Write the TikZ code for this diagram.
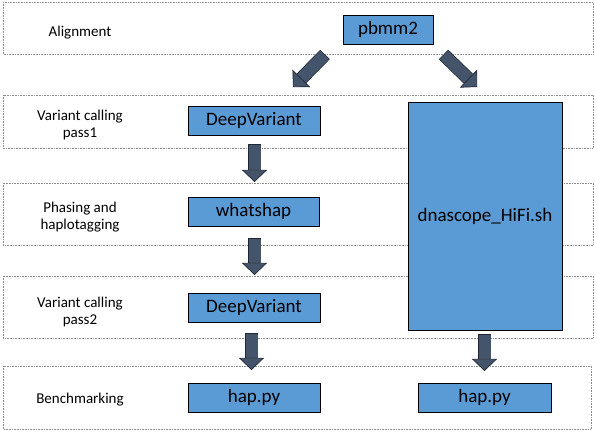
\documentclass[tikz,border=0pt]{standalone}
\usepackage{fontspec}
\setmainfont{Carlito}
\usepackage{xcolor}
\usepackage{tikz}
\usetikzlibrary{arrows.meta}
\usetikzlibrary{positioning}

\definecolor{toolblue}{HTML}{5B9BD5}
\definecolor{slate}{HTML}{44546A}
\definecolor{slateedge}{HTML}{1F2733}

\begin{document}
\begin{tikzpicture}[x=1pt,y=-1pt,
    band/.style={draw=black!45,densely dotted,line width=0.6pt},
    stage/.style={font=\fontsize{15}{17}\selectfont,align=center},
    tool/.style={shape=rectangle,draw=black,line width=0.9pt,fill=toolblue,
        inner sep=0pt,minimum height=29pt,font=\fontsize{19}{21}\selectfont},
    blk/.style={line width=12pt,draw=slate,
        -{Triangle[length=12pt,width=25pt,line width=0.7pt,fill=slate,color=slateedge]},
        preaction={draw=slateedge,line width=13.4pt,-,shorten >=12pt,shorten <=-0.7pt}}]

  \useasboundingbox (0,0) rectangle (595,430);

  % the five rows
  \draw [band] (3,2) rectangle (593,54);
  \draw [band] (3,95) rectangle (593,148);
  \draw [band] (3,183) rectangle (593,245);
  \draw [band] (3,276) rectangle (593,338);
  \draw [band] (3,366) rectangle (591,429);

  % row names
  \node[stage] (lblalign) at (80,33) {Alignment};
  \node[stage] (lblpass1) at (80,125) {Variant calling\\pass1};
  \node[stage] (lblphase) at (80,217.5) {Phasing and\\haplotagging};
  \node[stage] (lblpass2) at (80,312) {Variant calling\\pass2};
  \node[stage] (lblbench) at (80,400) {Benchmarking};

  % tools
  \node[tool,minimum width=90pt] (pbmm) at (388,29.5) {pbmm2};
  \node[tool,minimum width=132pt] (dv1) at (254,120.5) {DeepVariant};
  \node[tool,minimum width=131pt] (whatshap) at (253.5,211.5) {whatshap};
  \node[tool,minimum width=132pt] (dv2) at (254,307.5) {DeepVariant};
  \node[tool,minimum width=132pt] (happyl) at (254,397.5) {hap.py};
  \node[tool,minimum width=133pt] (happyr) at (484.5,397.5) {hap.py};
  \node[tool,minimum width=154pt,minimum height=228pt] (dnascope) at (485,216) {dnascope\_HiFi.sh};

  % arrow ends
  \coordinate (splitl) at (324.5,55);
  \coordinate (splitr) at (444,55);
  \coordinate (tipl) at (293,87);
  \coordinate (tipr) at (477,87);
  \coordinate (a1top) at (254.5,145);
  \coordinate (a1tip) at (254.5,182);
  \coordinate (a2top) at (254.5,239);
  \coordinate (a2tip) at (254.5,275);
  \coordinate (a3top) at (251.5,334);
  \coordinate (a3tip) at (251.5,370);
  \coordinate (a4top) at (484.5,335);
  \coordinate (a4tip) at (484.5,371);

  \draw [blk] (splitl) -- (tipl);
  \draw [blk] (splitr) -- (tipr);
  \draw [blk] (a1top) -- (a1tip);
  \draw [blk] (a2top) -- (a2tip);
  \draw [blk] (a3top) -- (a3tip);
  \draw [blk] (a4top) -- (a4tip);

\end{tikzpicture}
\end{document}
